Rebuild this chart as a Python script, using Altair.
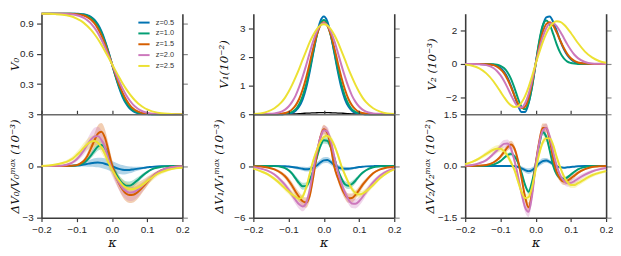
import altair as alt
import pandas as pd

# ---------------- data ----------------
K = [-0.20, -0.18, -0.16, -0.14, -0.12, -0.11, -0.10, -0.09, -0.08, -0.07, -0.06,
     -0.05, -0.04, -0.03, -0.02, -0.01, 0.00, 0.01, 0.02, 0.03, 0.04, 0.05, 0.06,
     0.07, 0.08, 0.09, 0.10, 0.11, 0.12, 0.14, 0.16, 0.18, 0.20]

Z_LABELS = ["z=0.5", "z=1.0", "z=1.5", "z=2.0", "z=2.5"]
COLORS = ["#0173b2", "#029e73", "#d55e00", "#cc78bc", "#ece133"]
X_TICKS = [-0.2, -0.1, 0.0, 0.1, 0.2]

# V0
V0_Z05 = [1, 1, 1, 1, 1, 1, 0.999, 0.998, 0.994, 0.986, 0.970, 0.941, 0.894, 0.826, 0.734, 0.623,
          0.5, 0.377, 0.266, 0.174, 0.106, 0.059, 0.030, 0.014, 0.006, 0.002, 0.001, 0, 0, 0, 0, 0, 0]
V0_Z10 = [1, 1, 1, 1, 1.0, 0.999, 0.998, 0.996, 0.991, 0.980, 0.961, 0.929, 0.880, 0.811, 0.722, 0.616,
          0.5, 0.384, 0.278, 0.189, 0.120, 0.071, 0.039, 0.020, 0.009, 0.004, 0.002, 0.001, 0, 0, 0, 0, 0]
V0_Z15 = [1, 1, 1, 1, 0.999, 0.998, 0.996, 0.991, 0.982, 0.967, 0.943, 0.906, 0.854, 0.785, 0.701, 0.604,
          0.5, 0.396, 0.299, 0.215, 0.146, 0.094, 0.057, 0.033, 0.018, 0.009, 0.004, 0.002, 0.001, 0, 0, 0, 0]
V0_Z20 = [1, 1, 1, 0.999, 0.995, 0.992, 0.985, 0.975, 0.959, 0.936, 0.904, 0.861, 0.808, 0.743, 0.668, 0.586,
          0.5, 0.414, 0.332, 0.257, 0.192, 0.139, 0.096, 0.064, 0.041, 0.025, 0.015, 0.008, 0.005, 0.001, 0, 0, 0]
V0_Z25 = [1.0, 0.999, 0.996, 0.990, 0.977, 0.967, 0.952, 0.933, 0.909, 0.878, 0.841, 0.798, 0.748, 0.691, 0.630, 0.566,
          0.5, 0.434, 0.370, 0.309, 0.252, 0.202, 0.159, 0.122, 0.091, 0.067, 0.048, 0.033, 0.023, 0.010, 0.004, 0.001, 0.0]

# V1 (1e-2)
V1_Z05 = [0, 0, 0, 0, 0, 0.01, 0.02, 0.05, 0.12, 0.27, 0.52, 0.92, 1.48, 2.13, 2.76, 3.23,
          3.40, 3.23, 2.76, 2.13, 1.48, 0.92, 0.52, 0.27, 0.12, 0.05, 0.02, 0.01, 0, 0, 0, 0, 0]
V1_Z10 = [0, 0, 0, 0, 0, 0.01, 0.03, 0.08, 0.17, 0.35, 0.63, 1.04, 1.57, 2.17, 2.73, 3.13,
          3.28, 3.13, 2.73, 2.17, 1.57, 1.04, 0.63, 0.35, 0.17, 0.08, 0.03, 0.01, 0, 0, 0, 0, 0]
V1_Z15 = [0, 0, 0, 0, 0.02, 0.04, 0.08, 0.17, 0.31, 0.53, 0.86, 1.28, 1.78, 2.30, 2.76, 3.08,
          3.20, 3.08, 2.76, 2.30, 1.78, 1.28, 0.86, 0.53, 0.31, 0.17, 0.08, 0.04, 0.02, 0, 0, 0, 0]
V1_Z20 = [0, 0, 0.01, 0.03, 0.09, 0.16, 0.27, 0.43, 0.65, 0.95, 1.31, 1.71, 2.14, 2.55, 2.88, 3.10,
          3.18, 3.10, 2.88, 2.55, 2.14, 1.71, 1.31, 0.95, 0.65, 0.43, 0.27, 0.16, 0.09, 0.03, 0.01, 0, 0]
V1_Z25 = [0.01, 0.03, 0.09, 0.21, 0.42, 0.58, 0.78, 1.02, 1.29, 1.58, 1.90, 2.21, 2.51, 2.76, 2.96, 3.09,
          3.13, 3.09, 2.96, 2.76, 2.51, 2.21, 1.90, 1.58, 1.29, 1.02, 0.78, 0.58, 0.42, 0.21, 0.09, 0.03, 0.01]
V1_BLACK = [0, 0, 0, 0, 0, 0.002, 0.005, 0.01, 0.015, 0.022, 0.03, 0.036, 0.042, 0.047, 0.051, 0.054,
            0.055, 0.054, 0.051, 0.047, 0.042, 0.036, 0.03, 0.022, 0.015, 0.01, 0.005, 0.002, 0, 0, 0, 0, 0]

# V2 (1e-3)
V2_Z05 = [0, 0, 0, -0.01, -0.05, -0.11, -0.23, -0.46, -0.81, -1.31, -1.90, -2.49, -2.87, -2.87, -2.34, -1.33,
          0, 1.26, 2.25, 2.78, 2.83, 2.50, 1.96, 1.38, 0.89, 0.52, 0.28, 0.13, 0.06, 0.01, 0, 0, 0]
V2_Z10 = [0, 0, 0, 0, -0.01, -0.04, -0.11, -0.24, -0.49, -0.89, -1.44, -2.06, -2.56, -2.70, -2.30, -1.33,
          0, 1.35, 2.29, 2.60, 2.35, 1.78, 1.16, 0.66, 0.33, 0.14, 0.06, 0.02, 0, 0, 0, 0, 0]
V2_Z15 = [0, 0, 0, -0.01, -0.07, -0.16, -0.31, -0.55, -0.91, -1.38, -1.90, -2.37, -2.63, -2.55, -2.04, -1.14,
          0, 1.05, 1.89, 2.38, 2.49, 2.28, 1.87, 1.39, 0.95, 0.59, 0.34, 0.18, 0.09, 0.02, 0, 0, 0]
V2_Z20 = [0, 0, -0.02, -0.07, -0.24, -0.42, -0.67, -1.00, -1.41, -1.85, -2.26, -2.54, -2.59, -2.34, -1.79, -0.97,
          0, 0.86, 1.60, 2.13, 2.41, 2.43, 2.25, 1.93, 1.55, 1.17, 0.83, 0.55, 0.35, 0.12, 0.03, 0.01, 0]
V2_Z25 = [-0.04, -0.11, -0.26, -0.56, -1.03, -1.33, -1.65, -1.97, -2.26, -2.47, -2.57, -2.52, -2.30, -1.92, -1.38, -0.72,
          0, 0.67, 1.29, 1.81, 2.20, 2.45, 2.55, 2.51, 2.36, 2.13, 1.85, 1.55, 1.25, 0.74, 0.39, 0.18, 0.07]

# dV0 / V0max (1e-3) and band half-widths
DV0_Z05 = [0, 0, 0, 0, 0.0, 0.01, 0.02, 0.04, 0.08, 0.12, 0.16, 0.19, 0.2, 0.18, 0.13, 0.06,
           -0.02, -0.10, -0.17, -0.22, -0.24, -0.23, -0.2, -0.17, -0.14, -0.11, -0.08, -0.06, -0.04, -0.02, -0.01, 0, 0]
DV0_Z10 = [0, 0, 0, 0, 0.0, 0.01, 0.04, 0.09, 0.18, 0.35, 0.60, 0.88, 1.13, 1.22, 1.05, 0.61,
           0.0, -0.41, -0.76, -1.01, -1.14, -1.14, -1.04, -0.87, -0.69, -0.51, -0.36, -0.23, -0.14, -0.05, -0.01, 0, 0]
DV0_Z15 = [0, 0, 0, 0, 0.01, 0.02, 0.05, 0.14, 0.29, 0.57, 1.00, 1.47, 1.87, 1.99, 1.65, 0.90,
           0.05, -0.55, -1.0, -1.36, -1.60, -1.69, -1.67, -1.56, -1.38, -1.16, -0.94, -0.72, -0.53, -0.26, -0.11, -0.04, -0.01]
DV0_Z20 = [0, 0, 0.01, 0.03, 0.13, 0.23, 0.39, 0.61, 0.90, 1.22, 1.52, 1.71, 1.73, 1.51, 1.07, 0.42,
           -0.18, -0.61, -0.98, -1.28, -1.46, -1.55, -1.53, -1.43, -1.27, -1.08, -0.89, -0.69, -0.52, -0.26, -0.12, -0.05, -0.02]
DV0_Z25 = [0.0, 0.03, 0.08, 0.17, 0.33, 0.45, 0.63, 0.83, 1.06, 1.26, 1.41, 1.45, 1.35, 1.09, 0.70, 0.21,
           -0.21, -0.55, -0.85, -1.10, -1.25, -1.34, -1.34, -1.29, -1.18, -1.04, -0.88, -0.73, -0.58, -0.36, -0.22, -0.14, -0.10]
EV0_Z05 = [0, 0, 0, 0, 0, 0.02, 0.04, 0.07, 0.11, 0.16, 0.21, 0.25, 0.28, 0.3, 0.31, 0.31,
           0.31, 0.3, 0.29, 0.27, 0.24, 0.2, 0.16, 0.12, 0.09, 0.06, 0.04, 0.03, 0.02, 0.01, 0, 0, 0]
EV0_Z10 = [0, 0, 0, 0, 0, 0, 0.02, 0.04, 0.07, 0.12, 0.17, 0.22, 0.25, 0.27, 0.27, 0.25,
           0.22, 0.22, 0.24, 0.25, 0.25, 0.24, 0.21, 0.18, 0.14, 0.11, 0.08, 0.05, 0.03, 0.01, 0, 0, 0]
EV0_Z15 = [0, 0, 0, 0, 0.01, 0.02, 0.04, 0.07, 0.12, 0.2, 0.3, 0.4, 0.48, 0.5, 0.48, 0.4,
           0.35, 0.35, 0.38, 0.42, 0.45, 0.46, 0.45, 0.41, 0.35, 0.28, 0.22, 0.16, 0.12, 0.06, 0.03, 0.01, 0]
EV0_Z20 = [0, 0, 0.01, 0.03, 0.06, 0.09, 0.13, 0.18, 0.25, 0.33, 0.42, 0.5, 0.55, 0.55, 0.5, 0.42,
           0.38, 0.38, 0.4, 0.44, 0.47, 0.48, 0.47, 0.44, 0.38, 0.32, 0.26, 0.2, 0.15, 0.08, 0.04, 0.02, 0.01]
EV0_Z25 = [0.01, 0.02, 0.04, 0.07, 0.12, 0.15, 0.19, 0.23, 0.27, 0.3, 0.32, 0.33, 0.33, 0.32, 0.3, 0.28,
           0.27, 0.27, 0.28, 0.3, 0.31, 0.32, 0.32, 0.31, 0.29, 0.26, 0.23, 0.2, 0.17, 0.12, 0.08, 0.05, 0.04]

# dV1 / V1max (1e-3)
DV1_Z05 = [0, 0, 0, 0, -0.02, -0.04, -0.07, -0.12, -0.18, -0.25, -0.33, -0.38, -0.35, -0.2, 0.05, 0.4,
           0.65, 0.68, 0.45, 0.08, -0.15, -0.28, -0.33, -0.32, -0.27, -0.2, -0.13, -0.08, -0.05, -0.02, 0, 0, 0]
DV1_Z10 = [0, 0, 0, -0.02, -0.12, -0.25, -0.5, -0.9, -1.45, -2.0, -2.35, -2.31, -1.65, -0.52, 0.94, 2.27,
           2.98, 2.92, 2.16, 0.88, -0.45, -1.46, -2.12, -2.29, -2.1, -1.7, -1.2, -0.8, -0.5, -0.15, -0.04, 0, 0]
DV1_Z15 = [-0.02, -0.07, -0.18, -0.4, -0.85, -1.2, -1.7, -2.3, -3.0, -3.6, -4.1, -4.25, -3.44, -1.31, 1.23, 3.3,
           4.27, 3.85, 2.15, -0.13, -1.39, -2.5, -3.31, -3.74, -3.72, -3.35, -2.8, -2.2, -1.7, -0.85, -0.4, -0.18, -0.08]
DV1_Z20 = [-0.15, -0.3, -0.55, -1.0, -1.75, -2.2, -2.75, -3.35, -3.95, -4.45, -4.7, -4.3, -2.75, -0.5, 1.6, 3.25,
           4.15, 4.0, 2.9, 1.05, -0.69, -2.0, -3.1, -3.9, -4.35, -4.38, -4.1, -3.6, -3.0, -1.9, -1.1, -0.6, -0.3]
DV1_Z25 = [-0.3, -0.6, -0.95, -1.5, -2.2, -2.6, -2.95, -3.3, -3.6, -3.8, -3.53, -2.49, -0.9, 0.63, 1.82, 2.77,
           3.35, 3.5, 3.15, 2.38, 1.28, 0.0, -1.02, -1.94, -2.67, -3.14, -3.3, -3.2, -2.95, -2.2, -1.4, -0.8, -0.4]
EV1_Z05 = [0, 0, 0, 0, 0.03, 0.05, 0.08, 0.12, 0.16, 0.2, 0.24, 0.27, 0.3, 0.32, 0.34, 0.35,
           0.35, 0.35, 0.34, 0.32, 0.3, 0.27, 0.24, 0.2, 0.16, 0.12, 0.08, 0.05, 0.03, 0.01, 0, 0, 0]
EV1_Z10 = [0, 0, 0, 0.02, 0.06, 0.1, 0.15, 0.22, 0.3, 0.36, 0.4, 0.4, 0.36, 0.3, 0.3, 0.34,
           0.38, 0.38, 0.34, 0.3, 0.3, 0.33, 0.37, 0.38, 0.36, 0.3, 0.22, 0.16, 0.1, 0.04, 0.01, 0, 0]
EV1_Z15 = [0.01, 0.03, 0.06, 0.12, 0.22, 0.28, 0.35, 0.42, 0.5, 0.56, 0.6, 0.6, 0.55, 0.45, 0.42, 0.48,
           0.52, 0.52, 0.46, 0.4, 0.42, 0.48, 0.52, 0.54, 0.52, 0.48, 0.42, 0.35, 0.28, 0.16, 0.08, 0.04, 0.02]
EV1_Z20 = [0.03, 0.06, 0.1, 0.16, 0.25, 0.3, 0.36, 0.42, 0.48, 0.53, 0.55, 0.52, 0.45, 0.4, 0.42, 0.48,
           0.52, 0.52, 0.48, 0.42, 0.4, 0.42, 0.46, 0.5, 0.53, 0.54, 0.52, 0.48, 0.42, 0.3, 0.2, 0.12, 0.07]
EV1_Z25 = [0.08, 0.12, 0.17, 0.22, 0.28, 0.31, 0.34, 0.36, 0.38, 0.38, 0.37, 0.34, 0.3, 0.3, 0.33, 0.36,
           0.38, 0.38, 0.37, 0.34, 0.3, 0.28, 0.3, 0.33, 0.35, 0.36, 0.36, 0.35, 0.33, 0.27, 0.2, 0.14, 0.09]

# dV2 / V2max (1e-2)
DV2_Z05 = [0, 0, 0, 0, 0, 0, 0, 0, 0, 0, -0.01, -0.03, -0.07, -0.12, -0.15, -0.12,
           -0.03, 0.07, 0.14, 0.16, 0.12, 0.05, -0.01, -0.04, -0.05, -0.04, -0.03, -0.02, -0.01, 0, 0, 0, 0]
DV2_Z10 = [0, 0, 0, 0.01, 0.04, 0.08, 0.14, 0.23, 0.31, 0.35, 0.28, 0.1, -0.2, -0.55, -0.75, -0.45,
           0.05, 0.6, 0.98, 0.85, 0.45, 0.0, -0.25, -0.35, -0.37, -0.33, -0.25, -0.17, -0.1, -0.03, 0, 0, 0]
DV2_Z15 = [0, 0, 0.01, 0.03, 0.1, 0.17, 0.27, 0.4, 0.54, 0.62, 0.5, 0.15, -0.35, -0.9, -1.2, -0.75,
           0.05, 0.7, 1.1, 1.1, 0.75, 0.2, -0.18, -0.38, -0.45, -0.43, -0.36, -0.28, -0.2, -0.09, -0.03, -0.01, 0]
DV2_Z20 = [0.01, 0.03, 0.08, 0.17, 0.35, 0.45, 0.56, 0.64, 0.65, 0.5, 0.15, -0.3, -0.8, -1.2, -1.33, -0.85,
           0.0, 0.65, 1.02, 1.1, 0.85, 0.4, 0.0, -0.28, -0.43, -0.5, -0.49, -0.44, -0.37, -0.25, -0.16, -0.1, -0.06]
DV2_Z25 = [0.05, 0.12, 0.22, 0.35, 0.47, 0.5, 0.5, 0.43, 0.3, 0.1, -0.12, -0.45, -0.75, -0.93, -0.9, -0.6,
           -0.12, 0.35, 0.68, 0.8, 0.8, 0.6, 0.25, -0.05, -0.3, -0.47, -0.55, -0.55, -0.5, -0.38, -0.27, -0.2, -0.15]
EV2_Z05 = [0, 0, 0, 0, 0, 0, 0, 0, 0, 0.01, 0.02, 0.04, 0.06, 0.07, 0.08, 0.08,
           0.08, 0.08, 0.08, 0.07, 0.06, 0.05, 0.04, 0.03, 0.02, 0.01, 0, 0, 0, 0, 0, 0, 0]
EV2_Z10 = [0, 0, 0, 0, 0.01, 0.02, 0.03, 0.04, 0.05, 0.06, 0.06, 0.06, 0.06, 0.07, 0.08, 0.08,
           0.08, 0.08, 0.09, 0.09, 0.08, 0.07, 0.06, 0.06, 0.05, 0.05, 0.04, 0.03, 0.02, 0.01, 0, 0, 0]
EV2_Z15 = [0, 0, 0, 0.01, 0.03, 0.04, 0.06, 0.08, 0.1, 0.11, 0.1, 0.09, 0.1, 0.12, 0.14, 0.13,
           0.12, 0.12, 0.13, 0.13, 0.12, 0.1, 0.09, 0.09, 0.1, 0.09, 0.08, 0.07, 0.05, 0.03, 0.01, 0, 0]
EV2_Z20 = [0, 0.01, 0.02, 0.04, 0.06, 0.08, 0.1, 0.11, 0.12, 0.11, 0.1, 0.1, 0.12, 0.14, 0.15, 0.14,
           0.12, 0.12, 0.13, 0.13, 0.12, 0.1, 0.09, 0.09, 0.1, 0.1, 0.1, 0.09, 0.08, 0.06, 0.04, 0.03, 0.02]
EV2_Z25 = [0.02, 0.03, 0.05, 0.07, 0.09, 0.1, 0.1, 0.1, 0.09, 0.08, 0.08, 0.09, 0.1, 0.11, 0.11, 0.1,
           0.09, 0.09, 0.1, 0.1, 0.1, 0.09, 0.08, 0.07, 0.08, 0.08, 0.09, 0.09, 0.08, 0.07, 0.06, 0.05, 0.04]

# ---------------- layout / style ----------------
W = 143
TOP_H = 102
BOT_H = 105
DARK = "#3b3b3b"
TICK_GREY = "#8a8a8a"


def frame(series, errors=None):
    rows = []
    for i, z in enumerate(Z_LABELS):
        vals = series[i]
        errs = errors[i] if errors is not None else [0.0] * len(K)
        assert len(vals) == len(K), (z, len(vals))
        assert len(errs) == len(K), (z, len(errs))
        for k, v, e in zip(K, vals, errs):
            rows.append({"k": k, "v": v, "lo": v - e, "hi": v + e, "z": z})
    return pd.DataFrame(rows)


def panel(df, ydom, yticks, yfmt, ytitle, title_x, bottom, legend=False, extra=None):
    xs = alt.Scale(domain=[-0.2, 0.2], nice=False, zero=False)
    ys = alt.Scale(domain=ydom, nice=False, zero=False)
    cs = alt.Scale(domain=Z_LABELS, range=COLORS)
    if legend:
        leg = alt.Legend(orient="none", legendX=97, legendY=2, title=None, symbolType="stroke",
                         symbolStrokeWidth=2, symbolSize=130, labelFontSize=7.5,
                         labelFont="Liberation Sans", labelColor="#333333", rowPadding=0,
                         labelOffset=5, padding=0)
    else:
        leg = None
    left_axis = alt.Axis(orient="left", values=yticks, format=yfmt, title=ytitle, titleX=title_x,
                         titleBaseline="middle", titleAngle=270, domainWidth=1.6, tickSize=5,
                         tickWidth=1.2, labelPadding=3.5)
    right_axis = alt.Axis(orient="right", values=yticks, labels=False, title=None, domainWidth=1.6,
                          tickSize=5, tickWidth=1.2, tickColor=TICK_GREY)
    if bottom:
        x_main = alt.Axis(orient="bottom", values=X_TICKS, format=".1f", title="κ", tickSize=4,
                          tickWidth=1.2, domainWidth=1.6, labelPadding=3, labelFlush=False,
                          titlePadding=2, titleFontSize=13)
        x_dummy = alt.Axis(orient="top", values=X_TICKS, labels=False, title=None, tickSize=4,
                           tickWidth=1.2, domainWidth=1.4, domainColor="#6a6a6a")
    else:
        x_main = None
        x_dummy = None
    base = alt.Chart(df)
    layers = []
    if bottom:
        layers.append(base.mark_area(opacity=0.3, interpolate="monotone").encode(
            x=alt.X("k:Q", scale=xs, axis=None),
            y=alt.Y("lo:Q", scale=ys, axis=None),
            y2=alt.Y2("hi:Q"),
            color=alt.Color("z:N", scale=cs, legend=None)))
    if extra is not None:
        layers.append(extra(xs, ys))
    layers.append(base.mark_line(strokeWidth=2, interpolate="monotone").encode(
        x=alt.X("k:Q", scale=xs, axis=x_main),
        y=alt.Y("v:Q", scale=ys, axis=left_axis),
        color=alt.Color("z:N", scale=cs, legend=leg)))
    layers.append(base.mark_line(strokeOpacity=0).encode(
        x=alt.X("k:Q", scale=xs, axis=x_dummy),
        y=alt.Y("v:Q", scale=ys, axis=right_axis),
        detail="z:N"))
    return (alt.layer(*layers)
            .resolve_axis(x="independent", y="independent")
            .properties(width=W, height=BOT_H if bottom else TOP_H))


def black_line(xs, ys):
    d = pd.DataFrame({"k": K, "v": V1_BLACK})
    return alt.Chart(d).mark_line(color="black", strokeWidth=1.3, interpolate="monotone").encode(
        x=alt.X("k:Q", scale=xs, axis=None),
        y=alt.Y("v:Q", scale=ys, axis=None))


df_v0 = frame([V0_Z05, V0_Z10, V0_Z15, V0_Z20, V0_Z25])
df_v1 = frame([V1_Z05, V1_Z10, V1_Z15, V1_Z20, V1_Z25])
df_v2 = frame([V2_Z05, V2_Z10, V2_Z15, V2_Z20, V2_Z25])
df_d0 = frame([DV0_Z05, DV0_Z10, DV0_Z15, DV0_Z20, DV0_Z25],
              [EV0_Z05, EV0_Z10, EV0_Z15, EV0_Z20, EV0_Z25])
df_d1 = frame([DV1_Z05, DV1_Z10, DV1_Z15, DV1_Z20, DV1_Z25],
              [EV1_Z05, EV1_Z10, EV1_Z15, EV1_Z20, EV1_Z25])
df_d2 = frame([DV2_Z05, DV2_Z10, DV2_Z15, DV2_Z20, DV2_Z25],
              [EV2_Z05, EV2_Z10, EV2_Z15, EV2_Z20, EV2_Z25])

tl = panel(df_v0, [0, 1], [0.3, 0.6, 0.9], ".1f", "V₀", -27.5, False, legend=True)
tm = panel(df_v1, [0, 3.5], [1, 2, 3], "d", "V₁(10⁻²)", -30, False, extra=black_line)
tr = panel(df_v2, [-3, 3], [-2, 0, 2], "d", "V₂ (10⁻³)", -34, False)
bl = panel(df_d0, [-3, 3], [-3, 0, 3], "d", "ΔV₀/V₀ᵐᵃˣ (10⁻³)", -27.5, True)
bm = panel(df_d1, [-6, 6], [-6, 0, 6], "d", "ΔV₁/V₁ᵐᵃˣ (10⁻³)", -35, True)
br = panel(df_d2, [-1.5, 1.5], [-1.5, 0.0, 1.5], ".1f", "ΔV₂/V₂ᵐᵃˣ (10⁻²)", -36, True)

chart = alt.concat(tl, tm, tr, bl, bm, br, columns=3,
                   spacing={"row": 0, "column": 72}, bounds="flush")
chart = (chart.resolve_scale(x="independent", y="independent")
         .properties(padding=0)
         .configure_view(stroke=None)
         .configure_axis(labelFont="Liberation Sans", labelFontSize=10, labelColor="#262626",
                         titleFont="DejaVu Serif", titleFontStyle="italic", titleFontWeight="normal",
                         titleFontSize=12, titleColor="#111111", domainColor=DARK, tickColor=DARK,
                         grid=False, labelOverlap=False))

chart.save("out.html", embed_options={"renderer": "svg", "actions": False})
